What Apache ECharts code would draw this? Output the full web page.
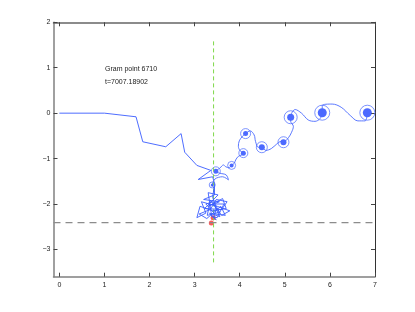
<!DOCTYPE html>
<html>
<head>
<meta charset="utf-8">
<script src="https://cdn.jsdelivr.net/npm/echarts@6/dist/echarts.min.js"></script>
<style>html,body{margin:0;padding:0;background:#fff}#c{width:415px;height:312px}</style>
</head>
<body>
<div id="c"></div>
<script>
// ---- data ----
const xTicks = [0, 1, 2, 3, 4, 5, 6, 7];
const yTicks = [-3, -2, -1, 0, 1, 2];
const xRange = [-0.13, 7];
const yRange = [-3.6, 2];

// first big steps of the walk
const headPath = [[0,0],[1,0],[1.70,-0.08],[1.85,-0.63],[2.36,-0.74],[2.70,-0.45],[2.78,-0.86],
  [3.05,-1.15],[3.36,-1.26],[3.08,-1.46],[3.40,-1.40],[3.44,-1.55],[3.44,-1.80]];
// tangled part near the dashed lines
const tanglePath = [[3.20,-1.90],[3.55,-1.95],[3.30,-2.05],[3.62,-1.88],[3.70,-2.10],[3.40,-2.15],
  [3.12,-2.05],[3.05,-2.30],[3.25,-2.20],[3.15,-1.95],[3.50,-2.05],[3.78,-2.15],[3.60,-2.25],
  [3.35,-1.92],[3.28,-2.25],[3.55,-2.18],[3.45,-2.00],[3.65,-2.00],[3.50,-2.30],[3.38,-2.28],
  [3.30,-1.75],[3.52,-1.80],[3.22,-2.10],[3.60,-2.12],[3.72,-1.95],[3.48,-1.90],[3.35,-2.12],
  [3.10,-2.22],[3.27,-2.32],[3.58,-2.05],[3.68,-2.25],[3.45,-2.22],[3.25,-2.00],[3.40,-1.95],
  [3.56,-2.28],[3.33,-2.20],[3.48,-2.35],
  [3.42,-2.30],[3.48,-2.12],[3.40,-1.85],[3.43,-1.65],[3.39,-1.58]];
// chain of spirals
const chainPath = [[3.39,-1.58],[3.45,-1.45],[3.62,-1.40],[3.75,-1.47],[3.70,-1.36],[3.55,-1.32],[3.47,-1.28],
  [3.56,-1.21],[3.64,-1.14],[3.69,-1.18],[3.76,-1.20],[3.82,-1.15],
  [3.88,-1.10],[3.91,-1.03],[3.97,-0.95],[4.04,-0.92],[4.08,-0.88],
  [4.01,-0.83],[3.97,-0.73],[3.99,-0.61],[4.06,-0.51],[4.13,-0.45],
  [4.23,-0.39],[4.32,-0.48],[4.35,-0.62],[4.41,-0.75],[4.49,-0.75],
  [4.58,-0.82],[4.70,-0.78],[4.82,-0.68],[4.92,-0.62],[4.97,-0.64],
  [5.08,-0.54],[5.15,-0.42],[5.19,-0.29],[5.13,-0.18],[5.13,-0.09],
  [5.23,0.08],[5.37,0.00],[5.52,-0.15],[5.67,-0.18],[5.78,-0.12],[5.83,0.01],
  [5.83,0.17],[6.05,0.20],[6.25,0.13],[6.45,-0.05],[6.62,-0.17],[6.78,-0.17],[6.83,0.01]];
const spiralCenters = [[3.39,-1.58],[3.47,-1.28],[3.82,-1.15],[4.08,-0.88],[4.13,-0.45],
  [4.49,-0.75],[4.97,-0.64],[5.13,-0.09],[5.83,0.01],[6.83,0.01]];
const redPoints = [[3.41,-2.30],[3.37,-2.42]];
const gramX = 3.42;
const gramSpan = [1.58, -3.30];
const zetaY = -2.41;
const labelLines = ['Gram point 6710', 't=7007.18902'];

// ---- styles ----
const ringSize = [6, 9, 8, 9, 10, 11, 11, 13, 15, 15];
const coreSize = [3, 5, 4, 5, 5, 6, 6, 7, 9, 9];
const FONT = 'Liberation Sans, Arial, sans-serif';
const blue = '#3a5cff';

const fmt = v => (v < 0 ? '\u2212' + Math.abs(v) : String(v));

const chart = echarts.init(document.getElementById('c'), null, {renderer: 'canvas'});
const tickStyle = {inside: true, length: 4, lineStyle: {color: '#444', width: 1}};
chart.setOption({
  animation: false,
  backgroundColor: '#fff',
  grid: {left: 53.5, right: 40, top: 22.3, bottom: 35.3},
  xAxis: [
    {type: 'value', min: xRange[0], max: xRange[1], position: 'bottom',
     axisLine: {show: true, onZero: false, lineStyle: {color: '#808080', width: 1.5}},
     axisTick: Object.assign({customValues: xTicks}, tickStyle),
     axisLabel: {customValues: xTicks, formatter: fmt, color: '#222', fontSize: 7, fontFamily: FONT, margin: 5},
     splitLine: {show: false}},
    {type: 'value', min: xRange[0], max: xRange[1], position: 'top',
     axisLine: {show: true, onZero: false, lineStyle: {color: '#666', width: 1.5}},
     axisTick: Object.assign({customValues: xTicks}, tickStyle),
     axisLabel: {show: false}, splitLine: {show: false}}
  ],
  yAxis: [
    {type: 'value', min: yRange[0], max: yRange[1], position: 'left',
     axisLine: {show: true, onZero: false, lineStyle: {color: '#808080', width: 1.5}},
     axisTick: Object.assign({customValues: yTicks}, tickStyle),
     axisLabel: {customValues: yTicks, formatter: fmt, color: '#222', fontSize: 7, fontFamily: FONT, margin: 3},
     splitLine: {show: false}},
    {type: 'value', min: yRange[0], max: yRange[1], position: 'right',
     axisLine: {show: true, onZero: false, lineStyle: {color: '#333', width: 1}},
     axisTick: Object.assign({customValues: yTicks}, tickStyle),
     axisLabel: {show: false}, splitLine: {show: false}}
  ],
  series: [
    {type: 'line', name: 'zeta level', data: [[xRange[0], zetaY], [xRange[1], zetaY]],
     showSymbol: false, symbol: 'none', silent: true,
     lineStyle: {color: '#8c8c8c', width: 1.3, type: [7, 5]}},
    {type: 'line', name: 'gram', data: [[gramX, gramSpan[0]], [gramX, gramSpan[1]]],
     showSymbol: false, symbol: 'none', silent: true,
     lineStyle: {color: '#7fd84a', width: 1, type: [4, 3]}},
    {type: 'line', name: 'path', data: headPath.concat(tanglePath), showSymbol: false, symbol: 'none',
     lineStyle: {color: blue, width: 0.9}},
    {type: 'line', name: 'spirals', data: chainPath, showSymbol: false, symbol: 'none', smooth: 0.35,
     lineStyle: {color: '#4a6aff', width: 0.9}},
    {type: 'scatter', name: 'rings', data: spiralCenters, symbol: 'circle',
     symbolSize: (v, p) => ringSize[p.dataIndex],
     itemStyle: {color: 'rgba(255,255,255,0)', borderColor: '#5b78ff', borderWidth: 1}},
    {type: 'scatter', name: 'cores', data: spiralCenters, symbol: 'circle',
     symbolSize: (v, p) => coreSize[p.dataIndex],
     itemStyle: {color: '#1f44ff'}},
    {type: 'scatter', name: 'red', data: redPoints, symbol: 'circle', symbolSize: 5,
     itemStyle: {color: '#ff3b3b', opacity: 0.85}}
  ],
  graphic: labelLines.map((t, i) => ({
    type: 'text', x: 105, y: 69.3 + i * 13, silent: true,
    style: {text: t, font: '7px ' + FONT, fill: '#222', textVerticalAlign: 'middle', verticalAlign: 'middle'}
  }))
});
</script>
</body>
</html>
